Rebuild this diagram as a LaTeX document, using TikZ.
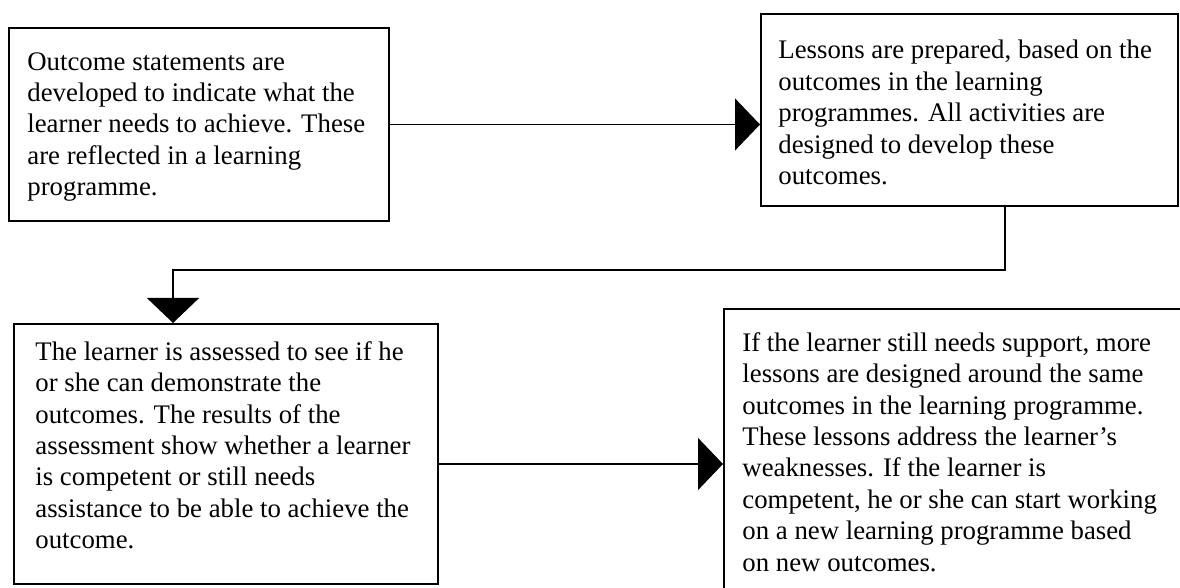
\documentclass[tikz,border=0pt]{standalone}
\usepackage{fontspec}
\setmainfont{Liberation Serif}
\usetikzlibrary{arrows.meta,calc,positioning}

\tikzset{
  stage/.style={draw, rectangle, line width=1pt, anchor=north west, inner sep=0pt},
  stagetext/.style={anchor=north west, align=left, inner sep=0pt,
    font=\fontsize{13.4pt}{15.7pt}\selectfont},
  flow/.style={line width=0.7pt, -{Triangle[length=12.5pt,width=26pt]}}
}

\begin{document}
\begin{tikzpicture}[x=0.5pt,y=-0.5pt]
  \useasboundingbox (0,0) rectangle (1180,588);

  % Boxes of the four stages (the last one runs past the page edge).
  \node[stage, minimum width=190pt, minimum height=96.5pt] (b1) at (8,27) {};
  \node[stage, minimum width=208.5pt, minimum height=96pt] (b2) at (760,13) {};
  \node[stage, minimum width=212pt, minimum height=130pt] (b3) at (13,323) {};
  \node[stage, minimum width=240pt, minimum height=155pt] (b4) at (723,308) {};

  % Texts, top aligned in each box.
  \node[stagetext] (t1) at (27,52)
    {Outcome statements are\\developed to indicate what the\\learner needs to achieve. These\\are reflected in a learning\\programme.};
  \node[stagetext] (t2) at (778,40)
    {Lessons are prepared, based on the\\outcomes in the learning\\programmes. All activities are\\designed to develop these\\outcomes.};
  \node[stagetext] (t3) at (35,341)
    {The learner is assessed to see if he\\or she can demonstrate the\\outcomes. The results of the\\assessment show whether a learner\\is competent or still needs\\assistance to be able to achieve the\\outcome.};
  \node[stagetext] (t4) at (742,332)
    {If the learner still needs support, more\\lessons are designed around the same\\outcomes in the learning programme.\\These lessons address the learner’s\\weaknesses. If the learner is\\competent, he or she can start working\\on a new learning programme based\\on new outcomes.};

  % Connectors.
  \draw[flow] (b1.east) -- (b1.east -| b2.west);
  \coordinate (down) at (1005,270);
  \coordinate (across) at (173,270);
  \draw[flow] (b2.south -| down) -- (down) -- (across) -- (across |- b3.north);
  \draw[flow] (b3.east |- b4.west) -- (b4.west);
\end{tikzpicture}
\end{document}
